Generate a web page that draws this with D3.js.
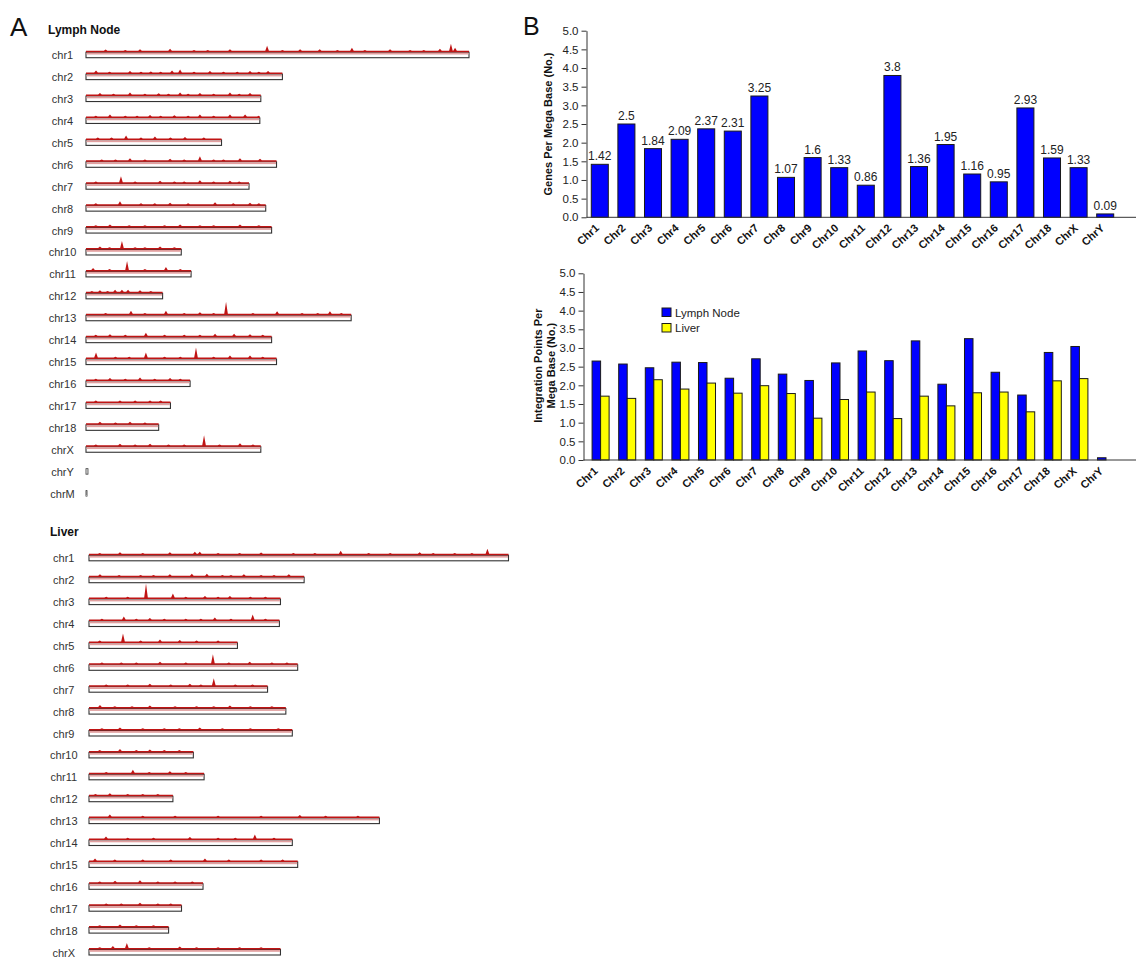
<!DOCTYPE html>
<html>
<head>
<meta charset="utf-8">
<script src="https://cdn.jsdelivr.net/npm/d3@7"></script>
<style>
  body { margin: 0; background: #fff; }
  svg { display: block; }
  text { font-family: "Liberation Sans", Arial, Helvetica, sans-serif; }
</style>
</head>
<body>
<svg id="fig" width="1136" height="957"></svg>
<script>
// ---------- Panel A: chromosome ideograms with integration-site traces ----------
const chromNames = ["chr1","chr2","chr3","chr4","chr5","chr6","chr7","chr8","chr9","chr10",
  "chr11","chr12","chr13","chr14","chr15","chr16","chr17","chr18","chrX","chrY","chrM"];
const chromLengthMb = [195,100,89,88.5,69,97,83,91.5,94.5,48.5,53.5,39,135,94.5,97,53,43,37,89,1,0.5];
const liverChroms = chromNames.slice(0, 19);

// [chromosome, position (Mb), relative site density]
const lymphSites = [
  ["chr1",92.2,5],["chr1",135.4,3],["chr1",180.2,2],["chr1",185.8,7],["chr1",187.9,3],["chr1",42.8,2],
  ["chr1",27.5,1.5],["chr1",109,1.5],["chr1",154.8,1.5],["chr1",73.3,1.5],["chr1",119,1.5],["chr1",10,1.2],
  ["chr2",5.1,2],["chr2",22.4,1.5],["chr2",43.8,2],["chr2",47.9,3],["chr2",63.1,1.5],["chr2",83.5,1.5],["chr2",92.7,1.5],["chr2",33,1.2],
  ["chr3",7.1,1.5],["chr3",22.4,2],["chr3",47.9,2],["chr3",58,1.5],["chr3",73.3,2],["chr3",83.5,1.5],["chr3",37,1.2],
  ["chr4",12.2,2],["chr4",32.6,1.5],["chr4",58,2],["chr4",73.3,2],["chr4",81,2],["chr4",45,1.2],
  ["chr5",20.4,3],["chr5",35.1,2],["chr5",50.4,1.5],
  ["chr6",58,4],["chr6",22.4,2],["chr6",42.8,1.5],["chr6",78.4,2],["chr6",88.6,1.5],
  ["chr7",17.8,6],["chr7",37.7,1.5],["chr7",58,2],["chr7",73.3,1.5],
  ["chr8",17.3,3],["chr8",42.8,1.5],["chr8",65.7,2],["chr8",83.5,1.5],
  ["chr9",12.2,1.5],["chr9",47.9,1.5],["chr9",78.4,1.5],
  ["chr10",18.3,7],["chr10",7.1,1.5],["chr10",37.7,1.5],
  ["chr11",20.9,9],["chr11",3.6,2],["chr11",40.7,3],
  ["chr12",14.8,2],["chr12",18.3,2],["chr12",21.4,2],["chr12",7.1,1.5],["chr12",27.5,1.5],
  ["chr13",71.3,12],["chr13",22.9,3],["chr13",40.7,3],["chr13",97.3,2.5],["chr13",124.2,2.5],["chr13",58,1.5],
  ["chr14",30.5,3],["chr14",65.7,2],["chr14",75.4,2],["chr14",12.2,1.5],["chr14",83.5,1.5],
  ["chr15",5.1,5],["chr15",30.5,5],["chr15",56,10],["chr15",73.3,2],["chr15",83.5,2],
  ["chr16",12.2,1.5],["chr16",27.5,2],["chr16",42.8,1.5],
  ["chr17",17.3,1],["chr17",32.6,1],
  ["chr18",7.1,1.5],["chr18",22.4,1.5],
  ["chrX",60.1,10],["chrX",32.6,1.5],["chrX",78.4,2],["chrX",17.3,1.5]
];
// low-level background sites: [chromosome, positions (Mb)]
const lymphLowSites = [
  ["chr1",[20,55,62,100,128,142,165,172]],["chr2",[12,28,38,55,70,77,88]],["chr3",[14,30,42,52,65,78]],
  ["chr4",[5,20,26,38,52,65,88]],["chr5",[6,13,28,43,60]],["chr6",[8,15,30,50,65,70]],
  ["chr7",[5,25,45,50,65,78]],["chr8",[5,28,35,52,75,88]],["chr9",[5,22,30,40,58,65,88]],
  ["chr10",[12,25,30,45]],["chr11",[12,30,48]],["chr12",[3,11,33]],["chr13",[10,30,50,65,85,110,118,130]],
  ["chr14",[5,20,40,50,58,90]],["chr15",[15,22,40,48,65,90]],["chr16",[5,20,35,48]],
  ["chr17",[5,25,38]],["chr18",[15,30]],["chrX",[5,25,42,50,68,85]]
];
const liverSites = [
  ["chr1",117,3],["chr1",185.2,5],["chr1",37.6,1.5],["chr1",49.2,2],["chr1",51.5,2],["chr1",14.4,1.5],["chr1",153.7,1.5],["chr1",80,1.2],
  ["chr2",54.8,2],["chr2",47.8,2],["chr2",37.6,1.5],["chr2",72,1.5],["chr2",92.9,1.5],["chr2",5.1,1.5],
  ["chr3",26.5,14],["chr3",39,4],["chr3",53.9,1.5],["chr3",65.5,1.5],
  ["chr4",76.1,5],["chr4",16.2,3],["chr4",58.5,2],["chr4",28.3,1.5],
  ["chr5",15.8,8],["chr5",33,2],["chr5",42.2,1.5],
  ["chr6",57.6,9],["chr6",33,1.5],["chr6",74.7,1.5],
  ["chr7",58,7],["chr7",28.3,1.5],["chr7",46.9,1.5],
  ["chr8",5.1,2],["chr8",28.3,1.5],["chr8",65.5,1.5],
  ["chr9",14.4,1.5],["chr9",51.5,1.5],
  ["chr10",14.4,2],["chr10",28.3,1.5],
  ["chr11",20.4,3],["chr11",37.6,1.5],
  ["chr12",9.7,1.5],
  ["chr13",9.7,2],["chr13",98,1.5],
  ["chr14",77.1,4],["chr14",7.9,2],["chr14",46.9,1.5],
  ["chr15",53.9,2],["chr15",2.8,2],
  ["chr16",23.7,2],["chr16",12.1,1.5],
  ["chr17",23.7,1.5],
  ["chr18",14.4,1.5],
  ["chrX",17.6,5],["chrX",11.1,2],["chrX",42.2,1.5]
];
const liverLowSites = [
  ["chr1",[5,25,60,70,95,105,130,140,160,170,178]],["chr2",[14,24,30,62,66,80,86]],["chr3",[8,18,45,60,75,82]],
  ["chr4",[6,22,35,45,52,66,82]],["chr5",[5,24,50,60]],["chr6",[6,15,22,45,65,85,92]],
  ["chr7",[8,18,38,52,68,76]],["chr8",[12,20,40,50,58,75,85]],["chr9",[6,25,35,42,62,75,88]],
  ["chr10",[5,22,35,42]],["chr11",[8,28,45]],["chr12",[3,18,25,32]],["chr13",[25,40,60,80,110,125]],
  ["chr14",[18,30,60,68,86]],["chr15",[12,25,38,65,80,90]],["chr16",[5,32,40,48]],
  ["chr17",[8,15,32,38]],["chr18",[5,22,30]],["chrX",[5,28,50,60,70,80]]
];

// ---------- Panel B: per-chromosome densities ----------
const genomeChroms = ["Chr1","Chr2","Chr3","Chr4","Chr5","Chr6","Chr7","Chr8","Chr9","Chr10",
  "Chr11","Chr12","Chr13","Chr14","Chr15","Chr16","Chr17","Chr18","ChrX","ChrY"];
const genesPerMb = [1.42,2.5,1.84,2.09,2.37,2.31,3.25,1.07,1.6,1.33,0.86,3.8,1.36,1.95,1.16,0.95,2.93,1.59,1.33,0.09];
const lymphPerMb = [2.65,2.57,2.47,2.62,2.61,2.19,2.71,2.3,2.13,2.6,2.92,2.66,3.19,2.03,3.25,2.35,1.74,2.88,3.04,0.06];
const liverPerMb = [1.71,1.65,2.15,1.9,2.06,1.79,1.99,1.78,1.12,1.62,1.82,1.11,1.71,1.45,1.8,1.82,1.29,2.12,2.18,0];
const seriesNames = ["Lymph Node","Liver"];
const seriesColors = ["#0000ff","#ffff00"];
const yTicks = [0,0.5,1,1.5,2,2.5,3,3.5,4,4.5,5];

const svg = d3.select("#fig");

// ---------------- Panel A ----------------
svg.append("text").attr("x", 10).attr("y", 36).attr("font-size", 26).attr("fill", "#111").text("A");

const lengthOf = name => chromLengthMb[chromNames.indexOf(name)];
const traceY = d3.scaleLinear().domain([0, 10]).range([0, 10]);

function drawGenome(g, names, sites, lowSites, xScale, firstBottom, rowStep, labelX) {
  const rowBottom = d3.scaleLinear().domain([0, 1]).range([firstBottom, firstBottom + rowStep]);
  const barH = 5.5;
  names.forEach((name, i) => {
    const len = lengthOf(name);
    const bottom = rowBottom(i);
    const top = bottom - barH;
    g.append("text")
      .attr("x", labelX).attr("y", bottom + 1.5)
      .attr("text-anchor", "middle").attr("font-size", 11).attr("fill", "#333")
      .text(name);
    if (len < 2) {
      g.append("rect")
        .attr("x", xScale(0)).attr("y", top)
        .attr("width", Math.max(1, xScale(len) - xScale(0))).attr("height", barH)
        .attr("fill", "#fff").attr("stroke", "#333").attr("stroke-width", 0.8);
      return;
    }
    // trace: baseline band plus spikes at integration hot spots
    const halfW = xScale.invert(xScale(0) + 1.8) - xScale.invert(xScale(0));
    const low = (lowSites.find(s => s[0] === name) || [name, []])[1].map(p => [name, p, 0.8]);
    const pts = [[0, 0]];
    sites.filter(s => s[0] === name).concat(low)
      .sort((a, b) => a[1] - b[1])
      .forEach(s => {
        pts.push([Math.max(0, s[1] - halfW), 0], [s[1], s[2]], [Math.min(len, s[1] + halfW), 0]);
      });
    pts.push([len, 0]);
    g.append("rect")
      .attr("x", xScale(0)).attr("y", top).attr("width", xScale(len) - xScale(0)).attr("height", barH)
      .attr("fill", "#fff").attr("stroke", "#333").attr("stroke-width", 1.1);
    g.append("rect")
      .attr("x", xScale(0) + 0.5).attr("y", top + 0.5).attr("width", xScale(len) - xScale(0) - 1).attr("height", 1.8)
      .attr("fill", "#e2a0a0");
    const area = d3.area()
      .x(d => xScale(d[0]))
      .y0(top)
      .y1(d => top - 1.5 - traceY(d[1]));
    g.append("path").datum(pts).attr("d", area).attr("fill", "#c01414").attr("stroke", "none");
  });
}

// Lymph node
svg.append("text").attr("x", 48).attr("y", 34)
  .attr("font-family", "'Noto Sans', 'Open Sans', sans-serif").attr("font-weight", 700)
  .attr("font-size", 12).attr("fill", "#111").text("Lymph Node");
const xLymph = d3.scaleLinear().domain([0, 195]).range([86, 469]);
drawGenome(svg.append("g"), chromNames, lymphSites, lymphLowSites, xLymph, 57.7, 21.92, 62.5);

// Liver
svg.append("text").attr("x", 50).attr("y", 536)
  .attr("font-family", "'Noto Sans', 'Open Sans', sans-serif").attr("font-weight", 700)
  .attr("font-size", 12).attr("fill", "#111").text("Liver");
const xLiver = d3.scaleLinear().domain([0, 195]).range([89, 508.5]);
drawGenome(svg.append("g"), liverChroms, liverSites, liverLowSites, xLiver, 560.8, 21.9, 63.8);

// ---------------- Panel B ----------------
svg.append("text").attr("x", 523).attr("y", 35).attr("font-size", 25).attr("fill", "#111").text("B");

function yAxis(g, y, axisX) {
  const ax = d3.axisLeft(y).tickValues(yTicks).tickFormat(d3.format(".1f")).tickSize(5).tickSizeOuter(0).tickPadding(3);
  g.attr("transform", `translate(${axisX},0)`).call(ax);
  g.select(".domain").attr("stroke", "#333");
  g.selectAll(".tick line").attr("stroke", "#333");
  g.selectAll(".tick text").attr("font-size", 11.5).attr("fill", "#222")
    .attr("font-family", "'Liberation Sans', Arial, sans-serif");
}

function xLabels(g, x, baseY, offset) {
  g.selectAll("text").data(genomeChroms).join("text")
    .attr("transform", d => `translate(${x(d) + x.bandwidth() / 2 + offset},${baseY}) rotate(-42)`)
    .attr("text-anchor", "end").attr("font-size", 11).attr("font-weight", 700).attr("fill", "#111")
    .text(d => d);
}

// Top chart: genes per megabase
const xTop = d3.scaleBand().domain(genomeChroms).range([586.5, 1118.5]).paddingInner(0.36).paddingOuter(0.18);
const yTop = d3.scaleLinear().domain([0, 5]).range([217.3, 30.7]);
const gTop = svg.append("g");
gTop.selectAll("rect").data(genesPerMb).join("rect")
  .attr("x", (d, i) => xTop(genomeChroms[i]))
  .attr("y", d => yTop(d))
  .attr("width", xTop.bandwidth())
  .attr("height", d => yTop(0) - yTop(d))
  .attr("fill", "#0000ff").attr("stroke", "#1a1a1a").attr("stroke-width", 1);
gTop.selectAll("text.val").data(genesPerMb).join("text").attr("class", "val")
  .attr("x", (d, i) => xTop(genomeChroms[i]) + xTop.bandwidth() / 2)
  .attr("y", d => yTop(d) - 4)
  .attr("text-anchor", "middle").attr("font-size", 12).attr("fill", "#222")
  .text(d => String(d));
svg.append("line").attr("x1", 586.5).attr("x2", 1136).attr("y1", yTop(0)).attr("y2", yTop(0))
  .attr("stroke", "#333").attr("stroke-width", 1);
yAxis(svg.append("g"), yTop, 586.5);
xLabels(svg.append("g"), xTop, 229, 0);
svg.append("text")
  .attr("transform", `translate(552,${(yTop(0) + yTop(5)) / 2}) rotate(-90)`)
  .attr("text-anchor", "middle").attr("font-size", 11).attr("font-weight", 700).attr("fill", "#111")
  .text("Genes Per Mega Base (No.)");

// Bottom chart: integration points per megabase
const xBot = d3.scaleBand().domain(genomeChroms).range([587.3, 1119.3]).paddingInner(0.36).paddingOuter(0.18);
const xSub = d3.scaleBand().domain(seriesNames).range([0, xBot.bandwidth()]);
const yBot = d3.scaleLinear().domain([0, 5]).range([460, 273.3]);
const gBot = svg.append("g");
[lymphPerMb, liverPerMb].forEach((vals, s) => {
  gBot.append("g").selectAll("rect").data(vals).join("rect")
    .attr("x", (d, i) => xBot(genomeChroms[i]) + xSub(seriesNames[s]))
    .attr("y", d => yBot(d))
    .attr("width", xSub.bandwidth())
    .attr("height", d => yBot(0) - yBot(d))
    .attr("fill", seriesColors[s]).attr("stroke", "#1a1a1a").attr("stroke-width", 1)
    .attr("display", d => d > 0 ? null : "none");
});
svg.append("line").attr("x1", 583.5).attr("x2", 1136).attr("y1", yBot(0)).attr("y2", yBot(0))
  .attr("stroke", "#333").attr("stroke-width", 1);
yAxis(svg.append("g"), yBot, 583.5);
xLabels(svg.append("g"), xBot, 472, -2);
const titleBot = svg.append("text")
  .attr("transform", `translate(0,${(yBot(0) + yBot(5)) / 2 - 1}) rotate(-90)`)
  .attr("text-anchor", "middle").attr("font-size", 11).attr("font-weight", 700).attr("fill", "#111");
titleBot.append("tspan").attr("x", 0).attr("y", 542).text("Integration Points Per");
titleBot.append("tspan").attr("x", 0).attr("y", 555).text("Mega Base (No.)");

// Legend
const legend = svg.append("g").attr("transform", "translate(662,308)");
seriesNames.forEach((name, i) => {
  const row = legend.append("g").attr("transform", `translate(0,${i * 15.5})`);
  row.append("rect").attr("width", 9).attr("height", 8.5)
    .attr("fill", seriesColors[i]).attr("stroke", "#1a1a1a").attr("stroke-width", 1);
  row.append("text").attr("x", 13).attr("y", 8.5).attr("font-size", 11.5).attr("fill", "#222").text(name);
});
</script>
</body>
</html>
